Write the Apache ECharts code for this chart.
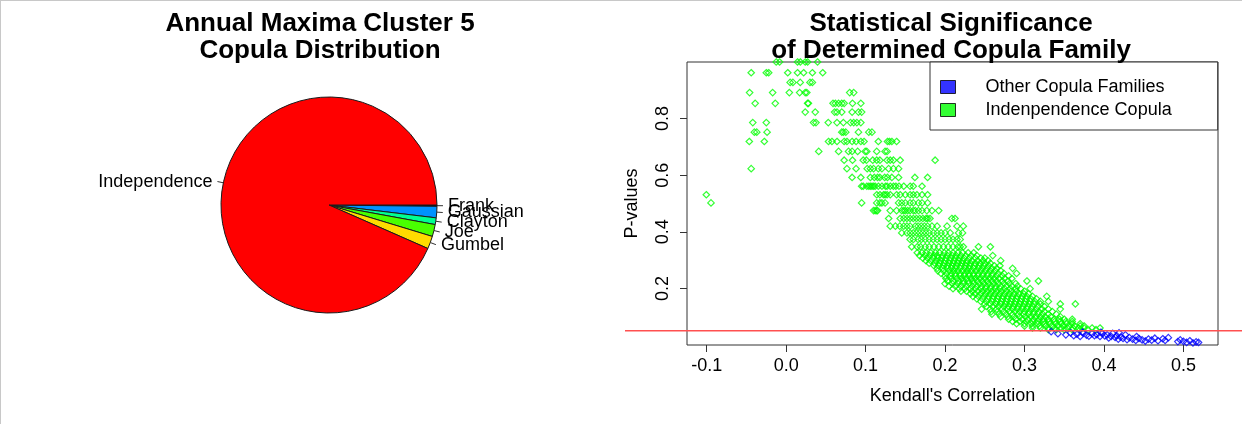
<!DOCTYPE html>
<html>
<head>
<meta charset="utf-8">
<title>Copula distribution and significance</title>
<script src="https://cdn.jsdelivr.net/npm/echarts@6/dist/echarts.min.js"></script>
<style>
  html, body { margin: 0; padding: 0; background: #fff; }
  #wrap { position: relative; width: 1242px; height: 424px; }
  #chart { position: absolute; left: 0; top: 0; width: 1242px; height: 424px; }
  #frame { position: absolute; left: 0; top: 0; width: 1242px; height: 424px; box-sizing: border-box;
           border-top: 1px solid #c8c8c8; border-left: 1px solid #c8c8c8; pointer-events: none; }
</style>
</head>
<body>
<div id="wrap">
  <div id="chart"></div>
  <div id="frame"></div>
</div>
<script>
const FONT = '"Liberation Sans", Arial, Helvetica, sans-serif';

// ---- Pie: selected copula family per site ----
const copulaFamilies = ['Frank', 'Gaussian', 'Clayton', 'Joe', 'Gumbel', 'Independence'];
const familyCounts   = [2, 17, 10, 18, 19, 934];
const familyColors   = ['#000000', '#0092FF', '#00FF92', '#49FF00', '#FFDB00', '#FF0000'];

// ---- Scatter: Kendall's tau vs. p-value of the independence test ----
const kendallTicks = [-0.1, 0.0, 0.1, 0.2, 0.3, 0.4, 0.5];
const pValueTicks  = [0.2, 0.4, 0.6, 0.8];
const significanceLevel = 0.05;

// Pairs where independence was kept: [p-value, [tau, tau, ...]]
const independenceRows = [
  [1.000, [-0.0125, -0.0083, 0.0143, 0.0178, 0.024, 0.027, 0.0395]],
  [0.962, [-0.044, -0.025, -0.022, 0.002, 0.0143, 0.022, 0.033, 0.046]],
  [0.928, [0.005, 0.0085, 0.0177, 0.030, 0.033]],
  [0.892, [-0.046, -0.017, 0.004, 0.017, 0.024, 0.026, 0.080, 0.085]],
  [0.854, [-0.039, -0.0137, 0.027, 0.028, 0.059, 0.062, 0.066, 0.070, 0.073, 0.0835, 0.094]],
  [0.823, [0.024, 0.0366, 0.061, 0.064, 0.070, 0.083, 0.091, 0.095]],
  [0.786, [-0.042, -0.025, 0.0345, 0.0375, 0.053, 0.064, 0.072, 0.081, 0.085, 0.089, 0.094]],
  [0.752, [-0.040, -0.037, -0.024, 0.070, 0.072, 0.075, 0.091, 0.104, 0.108]],
  [0.719, [-0.0464, -0.0275, 0.0533, 0.0576, 0.064, 0.073, 0.0765, 0.083, 0.088, 0.094, 0.098, 0.116, 0.1275, 0.130, 0.133, 0.139]],
  [0.684, [0.041, 0.066, 0.0785, 0.083, 0.090, 0.0995, 0.1015, 0.114, 0.1245, 0.127]],
  [0.653, [0.073, 0.0835, 0.097, 0.101, 0.109, 0.114, 0.118, 0.127, 0.131, 0.135, 0.1435, 0.1875]],
  [0.623, [-0.044, 0.0765, 0.088, 0.102, 0.106, 0.110, 0.116, 0.1205, 0.129, 0.135, 0.1415]],
  [0.592, [0.083, 0.094, 0.106, 0.111, 0.115, 0.118, 0.124, 0.1275, 0.133, 0.1415, 0.162, 0.178]],
  [0.561, [0.095, 0.097, 0.1015, 0.104, 0.106, 0.108, 0.110, 0.112, 0.116, 0.1205, 0.125, 0.127, 0.131, 0.135, 0.138, 0.142, 0.148, 0.156, 0.160, 0.171]],
  [0.531, [-0.1005, 0.114, 0.118, 0.1225, 0.1245, 0.127, 0.131, 0.139, 0.1435, 0.150, 0.156, 0.160, 0.1645, 0.171, 0.178]],
  [0.502, [-0.0946, 0.095, 0.114, 0.118, 0.1205, 0.1245, 0.1415, 0.1455, 0.150, 0.156, 0.160, 0.1665, 0.171, 0.178]],
  [0.475, [0.110, 0.112, 0.114, 0.115, 0.131, 0.139, 0.1455, 0.148, 0.150, 0.153, 0.156, 0.160, 0.1625, 0.1665, 0.171, 0.177, 0.1835, 0.192]],
  [0.447, [0.129, 0.1435, 0.148, 0.152, 0.156, 0.160, 0.164, 0.168, 0.172, 0.176, 0.178, 0.181, 0.2085, 0.2125]],
  [0.420, [0.131, 0.1375, 0.143, 0.148, 0.152, 0.156, 0.1625, 0.166, 0.170, 0.174, 0.178, 0.1835, 0.190, 0.2025, 0.215, 0.223]],
  [0.396, [0.1455, 0.152, 0.156, 0.160, 0.164, 0.168, 0.172, 0.176, 0.180, 0.1855, 0.190, 0.195, 0.200, 0.2065, 0.217, 0.222]],
  [0.373, [0.156, 0.160, 0.166, 0.170, 0.175, 0.180, 0.185, 0.190, 0.195, 0.200, 0.205, 0.210, 0.215, 0.219]],
  [0.347, [0.158, 0.165, 0.169, 0.175, 0.180, 0.186, 0.192, 0.198, 0.204, 0.210, 0.216, 0.219, 0.223, 0.242, 0.257]],
  [0.326, [0.165, 0.171, 0.176, 0.182, 0.188, 0.193, 0.199, 0.204, 0.210, 0.216, 0.222, 0.229, 0.236]],
  [0.316, [0.168, 0.175, 0.181, 0.186, 0.190, 0.197, 0.203, 0.209, 0.214, 0.220, 0.226, 0.233, 0.240, 0.260]],
  [0.307, [0.172, 0.178, 0.185, 0.191, 0.196, 0.201, 0.207, 0.213, 0.218, 0.224, 0.231, 0.238, 0.245, 0.250]],
  [0.298, [0.176, 0.182, 0.189, 0.194, 0.200, 0.206, 0.211, 0.217, 0.222, 0.228, 0.234, 0.241, 0.248, 0.254, 0.270]],
  [0.289, [0.180, 0.187, 0.193, 0.199, 0.205, 0.210, 0.216, 0.221, 0.227, 0.232, 0.238, 0.244, 0.250, 0.257]],
  [0.280, [0.186, 0.192, 0.198, 0.203, 0.209, 0.214, 0.220, 0.226, 0.231, 0.237, 0.243, 0.249, 0.255, 0.262, 0.269]],
  [0.271, [0.190, 0.197, 0.203, 0.208, 0.213, 0.219, 0.225, 0.230, 0.236, 0.242, 0.247, 0.253, 0.259, 0.265, 0.285]],
  [0.262, [0.191, 0.198, 0.205, 0.211, 0.216, 0.222, 0.228, 0.233, 0.239, 0.245, 0.251, 0.257, 0.263, 0.270]],
  [0.253, [0.195, 0.202, 0.208, 0.213, 0.219, 0.225, 0.230, 0.236, 0.242, 0.248, 0.254, 0.260, 0.267, 0.274, 0.290]],
  [0.244, [0.200, 0.207, 0.213, 0.219, 0.224, 0.230, 0.236, 0.241, 0.247, 0.253, 0.259, 0.265, 0.272, 0.280]],
  [0.235, [0.201, 0.208, 0.215, 0.221, 0.227, 0.233, 0.238, 0.244, 0.250, 0.256, 0.262, 0.268, 0.275, 0.284]],
  [0.226, [0.203, 0.210, 0.217, 0.223, 0.229, 0.235, 0.241, 0.247, 0.253, 0.259, 0.265, 0.272, 0.279, 0.303, 0.3175]],
  [0.217, [0.200, 0.209, 0.216, 0.223, 0.230, 0.236, 0.243, 0.249, 0.255, 0.261, 0.267, 0.274, 0.281, 0.289]],
  [0.208, [0.205, 0.213, 0.220, 0.227, 0.234, 0.240, 0.246, 0.252, 0.258, 0.264, 0.270, 0.277, 0.284, 0.291]],
  [0.199, [0.210, 0.218, 0.225, 0.232, 0.238, 0.245, 0.251, 0.257, 0.263, 0.269, 0.275, 0.282, 0.289, 0.295, 0.307]],
  [0.190, [0.220, 0.227, 0.234, 0.241, 0.247, 0.253, 0.259, 0.265, 0.271, 0.277, 0.283, 0.290, 0.300]],
  [0.181, [0.232, 0.238, 0.245, 0.251, 0.257, 0.263, 0.269, 0.275, 0.281, 0.287, 0.293, 0.299, 0.305]],
  [0.172, [0.235, 0.242, 0.249, 0.255, 0.261, 0.267, 0.273, 0.279, 0.285, 0.291, 0.297, 0.303, 0.310, 0.328]],
  [0.163, [0.240, 0.247, 0.254, 0.260, 0.266, 0.272, 0.278, 0.284, 0.290, 0.296, 0.302, 0.308, 0.315]],
  [0.154, [0.245, 0.252, 0.259, 0.265, 0.271, 0.277, 0.283, 0.289, 0.295, 0.301, 0.307, 0.313, 0.320, 0.330]],
  [0.145, [0.250, 0.257, 0.264, 0.270, 0.276, 0.282, 0.288, 0.294, 0.300, 0.306, 0.312, 0.320, 0.345, 0.364]],
  [0.136, [0.252, 0.260, 0.267, 0.274, 0.280, 0.286, 0.292, 0.298, 0.304, 0.310, 0.317, 0.325]],
  [0.127, [0.246, 0.257, 0.265, 0.272, 0.279, 0.285, 0.291, 0.297, 0.303, 0.309, 0.315, 0.322, 0.330, 0.345]],
  [0.118, [0.258, 0.266, 0.274, 0.281, 0.288, 0.294, 0.300, 0.306, 0.312, 0.318, 0.325, 0.335]],
  [0.109, [0.259, 0.268, 0.277, 0.285, 0.292, 0.299, 0.305, 0.311, 0.317, 0.323, 0.330, 0.340]],
  [0.100, [0.270, 0.279, 0.287, 0.294, 0.301, 0.308, 0.314, 0.320, 0.326, 0.333, 0.345]],
  [0.091, [0.280, 0.289, 0.297, 0.304, 0.311, 0.318, 0.324, 0.330, 0.337, 0.344, 0.350, 0.360]],
  [0.083, [0.285, 0.294, 0.302, 0.310, 0.317, 0.324, 0.331, 0.338, 0.345, 0.352, 0.360]],
  [0.075, [0.290, 0.300, 0.309, 0.317, 0.325, 0.332, 0.339, 0.346, 0.353, 0.360, 0.370]],
  [0.067, [0.300, 0.310, 0.319, 0.327, 0.335, 0.342, 0.349, 0.356, 0.363, 0.370, 0.375]],
  [0.060, [0.310, 0.320, 0.330, 0.338, 0.346, 0.354, 0.361, 0.368, 0.375, 0.385, 0.395]],
  [0.054, [0.330, 0.340, 0.350, 0.360, 0.370, 0.380, 0.390]]
];

// Pairs where another copula family was selected: [tau, p-value]
const otherFamilyPoints = [
  [0.3335, 0.047], [0.342, 0.040], [0.352, 0.036], [0.358, 0.043], [0.362, 0.033], [0.366, 0.038],
  [0.370, 0.030], [0.373, 0.046], [0.374, 0.042], [0.378, 0.035], [0.381, 0.031], [0.385, 0.040],
  [0.388, 0.033], [0.391, 0.037], [0.395, 0.030], [0.396, 0.045], [0.398, 0.041], [0.401, 0.032],
  [0.404, 0.036], [0.406, 0.025], [0.409, 0.030], [0.411, 0.041], [0.414, 0.027], [0.416, 0.033],
  [0.418, 0.021], [0.419, 0.043], [0.421, 0.028], [0.424, 0.023], [0.427, 0.036], [0.429, 0.019],
  [0.432, 0.026], [0.436, 0.021], [0.440, 0.016], [0.441, 0.030], [0.444, 0.023], [0.448, 0.018],
  [0.452, 0.014], [0.456, 0.021], [0.460, 0.017], [0.464, 0.024], [0.468, 0.015], [0.474, 0.022],
  [0.477, 0.016], [0.481, 0.026], [0.493, 0.012], [0.496, 0.018], [0.500, 0.013], [0.504, 0.009],
  [0.508, 0.015], [0.512, 0.007], [0.516, 0.011], [0.519, 0.009]
];

const independencePoints = independenceRows.flatMap(([p, taus]) => taus.map(t => [t, p]));

const labelText = { fontFamily: FONT, fontSize: 18, color: '#000' };
const titleText = { fontFamily: FONT, fontSize: 26, fontWeight: 'bold', color: '#000', lineHeight: 27 };
const fmt1 = v => v.toFixed(1);

const chart = echarts.init(document.getElementById('chart'), null, { renderer: 'canvas' });

chart.setOption({
  animation: false,
  backgroundColor: '#fff',
  textStyle: { fontFamily: FONT },
  title: [
    { text: 'Annual Maxima Cluster 5\nCopula Distribution', left: 320, top: 10, padding: 0, textAlign: 'center', textStyle: titleText },
    { text: 'Statistical Significance\nof Determined Copula Family', left: 951, top: 10, padding: 0, textAlign: 'center', textStyle: titleText }
  ],
  legend: {
    orient: 'vertical',
    left: 930, top: 62,
    padding: [15, 46, 10, 10],
    icon: 'rect',
    itemWidth: 15, itemHeight: 13, itemGap: 3,
    borderColor: '#333', borderWidth: 1,
    backgroundColor: '#fff',
    selectedMode: false,
    textStyle: Object.assign({ lineHeight: 20, padding: [0, 0, 0, 25] }, labelText),
    data: [
      { name: 'Other Copula Families', itemStyle: { color: '#0000FF', borderColor: '#000', borderWidth: 1 } },
      { name: 'Indenpendence Copula', itemStyle: { color: '#00FF00', borderColor: '#000', borderWidth: 1 } }
    ]
  },
  grid: [
    { left: 687, top: 62, right: 24, bottom: 79, show: true, borderColor: '#333', borderWidth: 1, backgroundColor: 'transparent' },
    { left: 625, top: 62, right: 0, bottom: 79 }
  ],
  xAxis: [
    {
      gridIndex: 0, type: 'value', min: -0.1248, max: 0.5435, position: 'bottom',
      axisLine: { show: false, onZero: false }, splitLine: { show: false },
      axisTick: { show: true, length: 7, customValues: kendallTicks, lineStyle: { color: '#333' } },
      axisLabel: Object.assign({ customValues: kendallTicks, formatter: fmt1, margin: 12 }, labelText),
      name: "Kendall's Correlation", nameLocation: 'middle', nameGap: 42,
      nameTextStyle: labelText
    },
    { gridIndex: 1, type: 'value', min: 0, max: 1, show: false }
  ],
  yAxis: [
    {
      gridIndex: 0, type: 'value', min: 0, max: 1, position: 'left',
      axisLine: { show: false, onZero: false }, splitLine: { show: false },
      axisTick: { show: true, length: 7, customValues: pValueTicks, lineStyle: { color: '#333' } },
      axisLabel: Object.assign({ customValues: pValueTicks, formatter: fmt1, rotate: 90, margin: 15 }, labelText),
      name: 'P-values', nameLocation: 'middle', nameGap: 46, nameRotate: 90,
      nameTextStyle: labelText
    },
    { gridIndex: 1, type: 'value', min: 0, max: 1, show: false }
  ],
  series: [
    {
      type: 'pie',
      center: [329, 205],
      radius: 108,
      startAngle: 0,
      clockwise: true,
      avoidLabelOverlap: false,
      labelLayout: { hideOverlap: false },
      silent: true,
      itemStyle: { borderColor: '#1a1a1a', borderWidth: 1 },
      label: Object.assign({ show: true, position: 'outside', formatter: '{b}', distanceToLabelLine: 5 }, labelText),
      labelLine: { show: true, length: 6, length2: 0, lineStyle: { color: '#333', width: 1 } },
      emphasis: { disabled: true },
      data: copulaFamilies.map((name, i) => ({
        name, value: familyCounts[i], itemStyle: { color: familyColors[i] }
      }))
    },
    {
      type: 'scatter', name: 'Indenpendence Copula',
      xAxisIndex: 0, yAxisIndex: 0,
      symbol: 'diamond', symbolSize: 6.5,
      clip: false, silent: true,
      itemStyle: { color: 'rgba(0,0,0,0)', borderColor: '#00FF00', borderWidth: 1.2 },
      data: independencePoints
    },
    {
      type: 'scatter', name: 'Other Copula Families',
      xAxisIndex: 0, yAxisIndex: 0,
      symbol: 'diamond', symbolSize: 6.5,
      clip: false, silent: true,
      itemStyle: { color: 'rgba(0,0,0,0)', borderColor: '#0000FF', borderWidth: 1.2 },
      data: otherFamilyPoints
    },
    {
      type: 'line', xAxisIndex: 1, yAxisIndex: 1,
      symbol: 'none', silent: true, z: 5,
      lineStyle: { color: '#FF5050', width: 1.5 },
      data: [[0, significanceLevel], [1, significanceLevel]]
    }
  ]
});
</script>
</body>
</html>
